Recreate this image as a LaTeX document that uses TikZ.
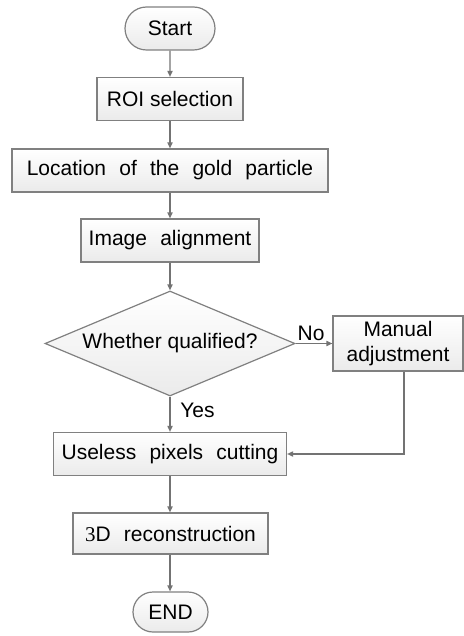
\documentclass[tikz,border=0pt]{standalone}
\usepackage{fontspec}
\setmainfont{Liberation Sans}
\newfontfamily\digitFont{Liberation Serif}
\usetikzlibrary{shapes.geometric,shapes.misc,arrows.meta}
\newcommand\boxLineColor{gray}
\newcommand\boxLineWidth{0.6pt}
\newcommand\boxHeight{21.5pt}
\newcommand\arrowColor{gray!90!black}
\newcommand\flowFont{\fontsize{10.5}{12.6}\selectfont}
\newcommand\wideSpace{\spaceskip=0.63em\relax}
\tikzset{
    flowbox/.style={draw=\boxLineColor, line width=\boxLineWidth, shape=rectangle, top color=white, bottom color=gray!16, minimum height=\boxHeight, inner sep=0pt, anchor=center, font=\flowFont},
    widespace/.style={execute at begin node=\wideSpace},
    terminal/.style={flowbox, shape=rounded rectangle},
    flowarrow/.style={draw=\arrowColor, line width=\boxLineWidth, -{Triangle[length=3pt,width=2.6pt]}},
}

\begin{document}
\begin{tikzpicture}[x=0.5pt, y=-0.5pt]

    \useasboundingbox (0,0) rectangle (464,636);

    % the main column of steps
    \node [terminal, minimum width=45pt] (Flow_Start) at (170,28.5) {Start};
    \node [flowbox, minimum width=73pt] (Flow_ROI) at (170,99) {ROI selection};
    \node [flowbox, widespace, minimum width=158pt] (Flow_Location) at (170,170.5) {Location of the gold particle};
    \node [flowbox, widespace, minimum width=89pt] (Flow_Align) at (170,240.5) {Image alignment};
    \node [flowbox, shape=diamond, aspect=2.4, minimum width=125pt, minimum height=52.5pt] (Flow_Check) at (170,343.5) {Whether qualified?};
    \node [flowbox, minimum width=65pt, minimum height=27.5pt, align=center] (Flow_Manual) at (398,343.5) {Manual\\adjustment};
    \node [flowbox, widespace, minimum width=116.5pt] (Flow_Cut) at (170,454) {Useless pixels cutting};
    \node [flowbox, widespace, minimum width=97.5pt, minimum height=20.5pt] (Flow_Recon) at (170.5,533.5) {{\digitFont 3}D reconstruction};
    \node [terminal, minimum width=37.5pt, minimum height=20pt] (Flow_End) at (170.5,612) {END};

    \draw [flowarrow] (Flow_Start) -- (Flow_ROI);
    \draw [flowarrow] (Flow_ROI) -- (Flow_Location);
    \draw [flowarrow] (Flow_Location) -- (Flow_Align);
    \draw [flowarrow] (Flow_Align) -- (Flow_Check);
    \draw [flowarrow] (Flow_Check) -- (Flow_Cut) node[pos=0.4, right=1.5pt, font=\flowFont] {Yes};
    \draw [flowarrow] (Flow_Check.east) -- (Flow_Manual.west) node[pos=0.42, above, inner sep=1pt, font=\flowFont] {No};
    % back into the cutting step
    \draw [flowarrow] ([xshift=3pt]Flow_Manual.south) |- (Flow_Cut.east);
    \draw [flowarrow] (Flow_Cut) -- (Flow_Recon.north -| Flow_Cut);
    \draw [flowarrow] (Flow_Recon.south -| Flow_Cut) -- (Flow_End.north -| Flow_Cut);

\end{tikzpicture}
\end{document}
